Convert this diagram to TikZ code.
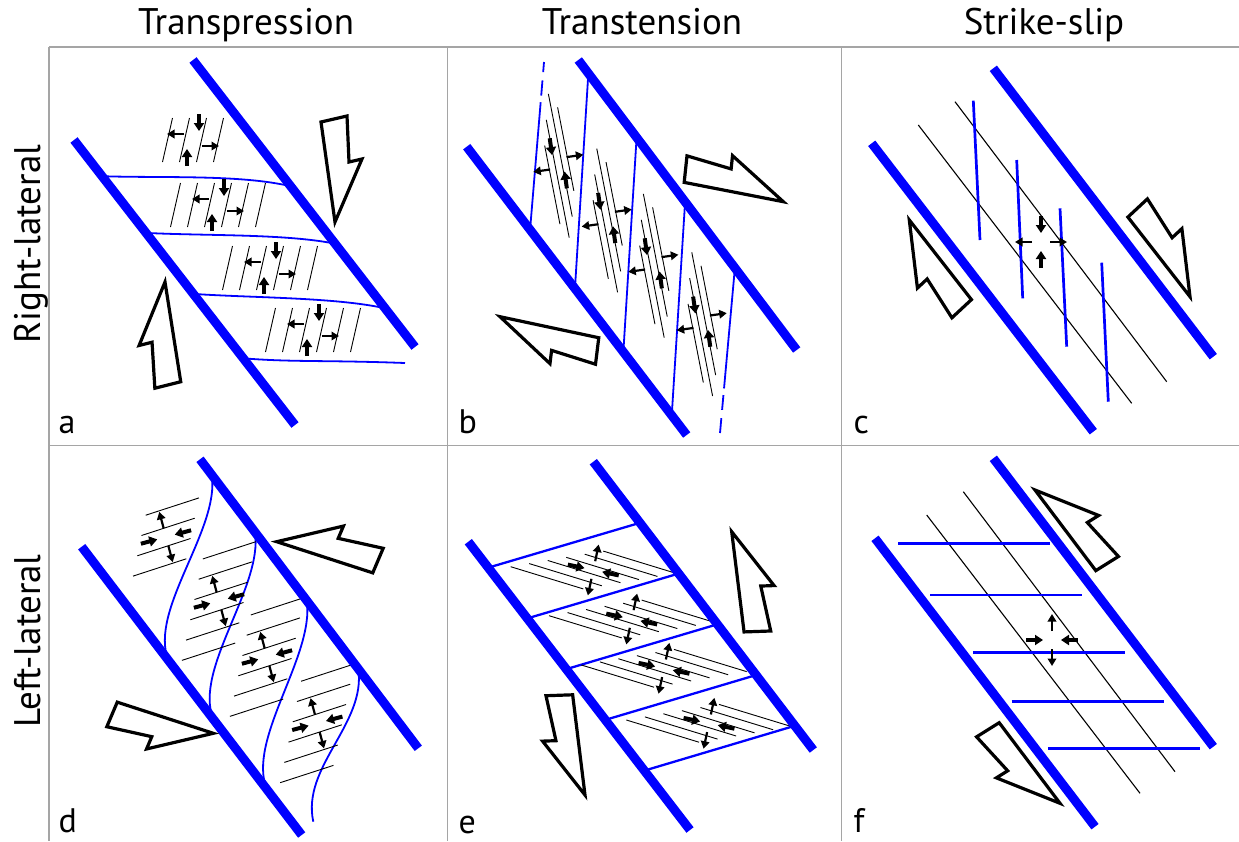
\documentclass[tikz,border=0pt]{standalone}
\usepackage{fontspec}
\setmainfont{PT Sans}
\usetikzlibrary{arrows.meta,calc}
\definecolor{faultblue}{RGB}{0,0,255}
\definecolor{framegray}{RGB}{165,165,165}

\tikzset{
  fault/.style={draw=faultblue, line width=9pt},
  link/.style={draw=faultblue, line width=1.8pt},
  rung/.style={draw=faultblue, line width=2.3pt},
  vein/.style={draw=faultblue, line width=2.7pt},
  frac/.style={draw=black, line width=0.9pt},
  trace/.style={draw=black, line width=1.1pt},
  ext/.style={draw=black, -{Triangle[length=7.5pt,width=8.5pt]}, line width=2.2pt},
  comp/.style={draw=black, -{Triangle[length=8pt,width=10pt]}, line width=4pt},
  slipbox/.style={draw=black, fill=white, line width=3.2pt, line join=miter},
  frame/.style={draw=framegray, line width=1.3pt},
  title/.style={font=\fontsize{37}{44}\selectfont},
  tag/.style={font=\fontsize{34}{40}\selectfont, anchor=base west},
  % strain cross: extension along x, shortening along y
  crossA/.pic={
    \draw[ext] (-9,{-(#1)}) -- (-26,{-(#1)});
    \draw[ext] (9,#1) -- (26,#1);
    \draw[comp] (#1,-26) -- (#1,-9);
    \draw[comp] ({-(#1)},26) -- ({-(#1)},9);
  },
  % strain cross: extension along y, shortening along x
  crossB/.pic={
    \draw[ext] ({-(#1)},-9) -- ({-(#1)},-26);
    \draw[ext] (#1,9) -- (#1,26);
    \draw[comp] (-26,#1) -- (-9,#1);
    \draw[comp] (26,{-(#1)}) -- (9,{-(#1)});
  },
  % hollow half-arrow showing the sense of slip, tip at the origin
  slip/.pic={
    \draw[slipbox] (0,0) -- (-63,-27) -- (-60,-14) -- (-106,-12) -- (-100,14) -- cycle;
  },
}

\begin{document}
\begin{tikzpicture}[x=1pt,y=-1pt]
\useasboundingbox (0,0) rectangle (1239,841);

% ---------- frame ----------
\draw[frame] (49,47) -- (1239,47);
\draw[frame] (49,445.5) -- (1239,445.5);
\draw[frame] (49,47) -- (49,841);
\draw[frame] (447.3,47) -- (447.3,841);
\draw[frame] (841.5,47) -- (841.5,841);

% ---------- headings ----------
\node[title, anchor=base] (h1) at (246,34) {Transpression};
\node[title, anchor=base] (h2) at (642,34) {Transtension};
\node[title, anchor=base] (h3) at (1044,34) {Strike-slip};
\node[title, anchor=base, rotate=90] (r1) at (40,244) {Right-lateral};
\node[title, anchor=base, rotate=90] (r2) at (40,641) {Left-lateral};

\node[tag] (ta) at (55,433) {a};
\node[tag] (tb) at (455,433) {b};
\node[tag] (tc) at (850,433) {c};
\node[tag] (td) at (55,832) {d};
\node[tag] (te) at (455,833) {e};
\node[tag] (tf) at (850,832) {f};

% ================= a: right-lateral transpression =================
\coordinate (aL1) at (74,140);   \coordinate (aL2) at (295,425);
\coordinate (aR1) at (193,60);   \coordinate (aR2) at (415,347);
\coordinate (aEnd) at (405,363);
\draw[link] ($(aL1)!0.127!(aL2)$) .. controls +(60,2) and +(-50,-12) .. ($(aR1)!0.44!(aR2)$);
\draw[link] ($(aL1)!0.326!(aL2)$) .. controls +(60,3) and +(-50,-10) .. ($(aR1)!0.64!(aR2)$);
\draw[link] ($(aL1)!0.54!(aL2)$) .. controls +(60,4) and +(-50,-11) .. ($(aR1)!0.865!(aR2)$);
\draw[link] ($(aL1)!0.766!(aL2)$) .. controls +(50,4) and +(-80,-3) .. (aEnd);
\begin{scope}[shift={(193,140)}]
  \foreach \o in {-25.5,-8.5,8.5,25.5} \draw[frac] (\o-5,22) -- (\o+5,-22);
\end{scope}
\foreach \cx/\cy in {218/205, 270/268, 313/330} {
  \begin{scope}[shift={(\cx,\cy)}]
    \foreach \o in {-42.5,-25.5,-8.5,8.5,25.5,42.5} \draw[frac] (\o-5,22) -- (\o+5,-22);
  \end{scope}
}
\foreach \cx/\cy in {193/140, 218/205, 270/268, 313/330} \pic at (\cx,\cy) {crossA=6};
\draw[fault] (aL1) -- (aL2);
\draw[fault] (aR1) -- (aR2);
\pic[rotate=91] at (165,282) {slip};
\pic[rotate=-90] at (335,222) {slip};

% ================= b: right-lateral transtension =================
\coordinate (bL1) at (466.7,146.7); \coordinate (bL2) at (686.7,435);
\coordinate (bR1) at (578.3,60);    \coordinate (bR2) at (796.7,350);
\coordinate (bTop) at (544,62);     \coordinate (bBot) at (720,433);
\coordinate (bS) at ($(bL1)!0.288!(bL2)$);
\coordinate (bE) at ($(bR1)!0.717!(bR2)$);
\draw[link] (bS) -- ($(bS)!0.76!(bTop)$);
\draw[link] ($(bS)!0.80!(bTop)$) -- ($(bS)!0.89!(bTop)$);
\draw[link] ($(bS)!0.94!(bTop)$) -- (bTop);
\draw[link] (bE) -- ($(bE)!0.73!(bBot)$);
\draw[link] ($(bE)!0.77!(bBot)$) -- ($(bE)!0.86!(bBot)$);
\draw[link] ($(bE)!0.91!(bBot)$) -- (bBot);
\foreach \s/\t in {0.492/0.046, 0.712/0.267, 0.932/0.489}
  \draw[link] ($(bL1)!\s!(bL2)$) -- ($(bR1)!\t!(bR2)$);
\foreach \cx/\cy in {558.3/163.3, 606.7/218, 653.3/263.3, 701.7/321.7} {
  \begin{scope}[shift={(\cx,\cy)}, rotate=-79]
    \foreach \y/\a/\b in {-10/-55/30, -3.5/-70/55, 3.5/-45/75, 10/-20/60}
      \draw[frac] (\a,\y) -- (\b,\y);
  \end{scope}
  \pic[rotate=8] at (\cx,\cy) {crossA=-5};
}
\draw[fault] (bL1) -- (bL2);
\draw[fault] (bR1) -- (bR2);
\pic[rotate=-19] at (783.3,201.7) {slip};
\pic[rotate=160] at (500,316.7) {slip};

% ================= c: right-lateral strike-slip =================
\coordinate (cL1) at (871.7,143.3); \coordinate (cL2) at (1093.3,431.7);
\coordinate (cR1) at (993.3,68.3);  \coordinate (cR2) at (1213.3,356.7);
\coordinate (cT1a) at (918.3,125);  \coordinate (cT1b) at (1131.7,403.3);
\coordinate (cT2a) at (955,101.7);  \coordinate (cT2b) at (1166.7,381.7);
\draw[trace] (cT1a) -- (cT1b);
\draw[trace] (cT2a) -- (cT2b);
\coordinate (cV1a) at (973.3,100.7);  \coordinate (cV1b) at (980,240);
\coordinate (cV2a) at (1016.7,160);   \coordinate (cV2b) at (1022.7,298.3);
\coordinate (cV3a) at (1060,208.3);   \coordinate (cV3b) at (1066.7,346.7);
\coordinate (cV4a) at (1101.7,262.7); \coordinate (cV4b) at (1108.3,401.7);
\foreach \k in {1,2,3,4} \draw[vein] (cV\k a) -- (cV\k b);
\pic at (1041,242) {crossA=0};
\draw[fault] (cL1) -- (cL2);
\draw[fault] (cR1) -- (cR2);
\pic[rotate=120] at (909.3,220) {slip};
\pic[rotate=-60] at (1190,296.7) {slip};

% ================= d: left-lateral transpression =================
\coordinate (dL1) at (81.7,546.7); \coordinate (dL2) at (301.7,835);
\coordinate (dR1) at (200,459.3);  \coordinate (dR2) at (418.3,748.3);
\coordinate (dEnd) at (313.3,821.7);
\foreach \s/\t in {0.054/0.394, 0.252/0.598, 0.489/0.841}
  \draw[link] ($(dR1)!\s!(dR2)$) .. controls +(8,55) and +(-20,-50) .. ($(dL1)!\t!(dL2)$);
\draw[link] ($(dR1)!0.725!(dR2)$) .. controls +(8,55) and +(-12,-55) .. (dEnd);
\begin{scope}[shift={(166,537)}, rotate=18]
  \foreach \y in {-27,-9,9,27} \draw[frac] ({-0.57*(\y)-28},\y) -- ({-0.57*(\y)+28},\y);
\end{scope}
\foreach \cx/\cy in {219/601, 267/657, 317.3/723.3} {
  \begin{scope}[shift={(\cx,\cy)}, rotate=18]
    \foreach \y in {-45,-27,-9,9,27,45} \draw[frac] ({-0.57*(\y)-28},\y) -- ({-0.57*(\y)+28},\y);
  \end{scope}
}
\foreach \cx/\cy in {166/537, 219/601, 267/657, 317.3/723.3} \pic[rotate=15] at (\cx,\cy) {crossB=0};
\draw[fault] (dL1) -- (dL2);
\draw[fault] (dR1) -- (dR2);
\pic[rotate=170, yscale=-1] at (276.7,541.7) {slip};
\pic[rotate=-10, yscale=-1] at (213.3,733.3) {slip};

% ================= e: left-lateral transtension =================
\coordinate (eL1) at (468.3,541.7); \coordinate (eL2) at (690,830);
\coordinate (eR1) at (593.3,461.7); \coordinate (eR2) at (813.3,750);
\foreach \s/\t in {0.09/0.212, 0.266/0.388, 0.442/0.564, 0.618/0.740, 0.794/0.916}
  \draw[rung] ($(eL1)!\s!(eL2)$) -- ($(eR1)!\t!(eR2)$);
\foreach \cx/\cy in {593.3/570, 631.7/619, 664/668.3, 709/723.3} {
  \begin{scope}[shift={(\cx,\cy)}, rotate=-17]
    \foreach \y in {-21,-12.6,-4.2,4.2,12.6,21} \draw[frac] ({-2*(\y)-38},\y) -- ({-2*(\y)+38},\y);
  \end{scope}
  \pic[rotate=-12] at (\cx,\cy) {crossB=0};
}
\draw[fault] (eL1) -- (eL2);
\draw[fault] (eR1) -- (eR2);
\pic[rotate=105, yscale=-1] at (731.7,531.7) {slip};
\pic[rotate=-75, yscale=-1] at (585,795) {slip};

% ================= f: left-lateral strike-slip =================
\coordinate (fL1) at (875,538.3);   \coordinate (fL2) at (1095,826.7);
\coordinate (fR1) at (993.3,458.3); \coordinate (fR2) at (1213.3,746.7);
\coordinate (fT1a) at (926.7,515);  \coordinate (fT1b) at (1140,793.3);
\coordinate (fT2a) at (963.3,491.7); \coordinate (fT2b) at (1175,771.7);
\draw[trace] (fT1a) -- (fT1b);
\draw[trace] (fT2a) -- (fT2b);
\foreach \x/\y in {898.3/543.3, 930/595, 973.3/652.7, 1011.7/701.7, 1048.3/748.3} {
  \coordinate (fh) at (\x,\y);
  \draw[vein] (fh) -- ++(152,0);
}
\pic at (1052,640) {crossB=0};
\draw[fault] (fL1) -- (fL2);
\draw[fault] (fR1) -- (fR2);
\pic[rotate=135, yscale=-1] at (1035,490) {slip};
\pic[rotate=-45, yscale=-1] at (1060,803.3) {slip};

\end{tikzpicture}
\end{document}
